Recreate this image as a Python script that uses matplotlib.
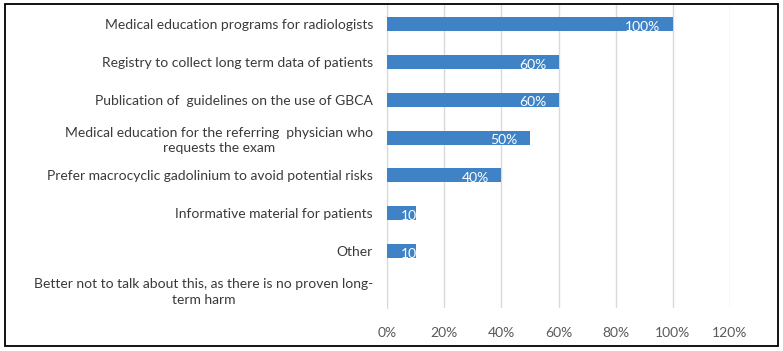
import matplotlib
matplotlib.use("Agg")
import matplotlib.pyplot as plt
from matplotlib.patches import Rectangle
from matplotlib.ticker import FuncFormatter

categories = [
    "Medical education programs for radiologists",
    "Registry to collect long term data of patients",
    "Publication of  guidelines on the use of GBCA",
    "Medical education for the referring  physician who\nrequests the exam",
    "Prefer macrocyclic gadolinium to avoid potential risks",
    "Informative material for patients",
    "Other",
    "Better not to talk about this, as there is no proven long-\nterm harm",
]
values = [1.00, 0.60, 0.60, 0.50, 0.40, 0.10, 0.10, 0.0]
xticks = [0, 0.2, 0.4, 0.6, 0.8, 1.0, 1.2]

plt.rcParams['font.family'] = ['Lato', 'DejaVu Sans']

W, H = 783, 351
fig = plt.figure(figsize=(W/100, H/100), dpi=100)
ax = fig.add_axes([387/W, 1-308/H, (730-387)/W, (308-5)/H])

bar_color = '#3f83c6'
ypos = list(range(len(categories)))
bars = ax.barh(ypos, values, height=0.37, color=bar_color, zorder=3)
ax.set_ylim(len(categories)-0.5, -0.5)
ax.set_xlim(0, 1.2)

ax.set_yticks(ypos)
ax.set_yticklabels(categories, fontsize=10, color='#3a3a3a', multialignment='center',
                   linespacing=1.35)
ax.tick_params(axis='y', length=0, pad=10)
ax.set_xticks(xticks)
ax.xaxis.set_major_formatter(FuncFormatter(lambda v, p: f"{v*100:.0f}%"))
ax.tick_params(axis='x', length=0, pad=14, labelsize=10, labelcolor='#595959')

ax.grid(axis='x', color='#d9d9d9', linewidth=1, zorder=0)
for s in ['top', 'right', 'bottom']:
    ax.spines[s].set_visible(False)
ax.spines['left'].set_color('#d9d9d9')

for b, v in zip(bars, values):
    if v <= 0:
        continue
    y = b.get_y() + b.get_height()/2
    if v >= 0.3:
        t = ax.annotate(f"{v*100:.0f}%", xy=(v, y), xytext=(-9, -2), textcoords='offset points',
                        ha='right', va='center', color='white', fontsize=10, zorder=4)
    else:
        t = ax.annotate(f"{v*100:.0f}%", xy=(0, y), xytext=(10, -2), textcoords='offset points',
                        ha='left', va='center', color='white', fontsize=10, zorder=4)
        t.set_clip_path(b)

fig.patches.append(Rectangle((5/W, 1-346/H), (778-5)/W, (346-4)/H, transform=fig.transFigure,
                             fill=False, edgecolor='black', linewidth=1.3))

fig.savefig('out.png', dpi=100)
